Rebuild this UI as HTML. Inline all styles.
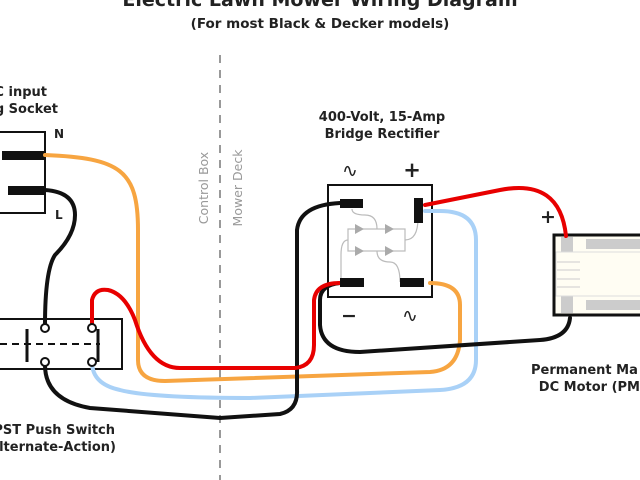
<!DOCTYPE html>
<html><head><meta charset="utf-8"><style>
html,body{margin:0;padding:0;background:#fff;width:640px;height:480px;overflow:hidden}
text{font-family:"DejaVu Sans","Liberation Sans",sans-serif;font-weight:bold;fill:#222}
</style></head><body>
<svg width="640" height="480" viewBox="0 0 640 480" xmlns="http://www.w3.org/2000/svg">
<text x="320" y="6" font-size="19" text-anchor="middle">Electric Lawn Mower Wiring Diagram</text>
<text x="320" y="28" font-size="13.5" text-anchor="middle">(For most Black &amp; Decker models)</text>

<!-- divider -->
<line x1="220" y1="55" x2="220" y2="480" stroke="#999" stroke-width="2" stroke-dasharray="8,7"/>
<text transform="translate(208,188) rotate(-90)" font-size="12.5" style="fill:#999;font-weight:normal" text-anchor="middle">Control Box</text>
<text transform="translate(242,188) rotate(-90)" font-size="12.5" style="fill:#999;font-weight:normal" text-anchor="middle">Mower Deck</text>

<!-- socket -->
<text x="47" y="96" font-size="13" text-anchor="end">AC input</text>
<text x="58" y="113" font-size="13" text-anchor="end">Plug Socket</text>
<path d="M0 132 H45 V213 H0" fill="none" stroke="#111" stroke-width="2"/>
<rect x="2" y="151" width="44" height="9" fill="#111"/>
<rect x="8" y="186" width="38" height="9" fill="#111"/>
<text x="54" y="138" font-size="12">N</text>
<text x="55" y="219" font-size="12">L</text>

<!-- switch -->
<path d="M0 319 H122 V369 H0" fill="none" stroke="#111" stroke-width="2"/>
<line x1="0" y1="344" x2="100" y2="344" stroke="#111" stroke-width="2" stroke-dasharray="7,5"/>
<line x1="27" y1="329" x2="27" y2="362" stroke="#111" stroke-width="3"/>
<line x1="98" y1="329" x2="98" y2="362" stroke="#111" stroke-width="3"/>
<text x="115" y="434" font-size="13" text-anchor="end">DPST Push Switch</text>
<text x="116" y="451" font-size="13" text-anchor="end">(Alternate-Action)</text>

<!-- bridge -->
<text x="382" y="121" font-size="13" text-anchor="middle">400-Volt, 15-Amp</text>
<text x="382" y="138" font-size="13" text-anchor="middle">Bridge Rectifier</text>
<text x="350" y="177" font-size="19" text-anchor="middle" style="font-weight:normal">∿</text>
<text x="412" y="177" font-size="21" text-anchor="middle">+</text>
<text x="349" y="322" font-size="19" text-anchor="middle">−</text>
<text x="410" y="322" font-size="19" text-anchor="middle" style="font-weight:normal">∿</text>
<rect x="328" y="185" width="104" height="112" fill="#fff" stroke="#111" stroke-width="2"/>
<g stroke="#bbb" stroke-width="1.2" fill="none">
<rect x="348" y="229" width="57" height="22"/>
<path d="M352 209 Q352 215 365 215 Q377 215 377 229"/>
<path d="M418 218 Q418 240 405 240"/>
<path d="M348 240 Q341 240 341 255 V282"/>
<path d="M377 251 Q377 262 390 262 Q400 262 400 282"/>
</g>
<g fill="#aaa"><path d="M355 224 L364 229 L355 234Z"/><path d="M385 224 L394 229 L385 234Z"/><path d="M355 246 L364 251 L355 256Z"/><path d="M385 246 L394 251 L385 256Z"/></g>

<!-- motor -->
<text x="548" y="223" font-size="19" text-anchor="middle">+</text>
<rect x="554" y="235" width="90" height="80" fill="#fffdf3" stroke="#111" stroke-width="3"/>
<rect x="561" y="237" width="12" height="76" fill="#ccc"/>
<rect x="586" y="239" width="60" height="10" fill="#ccc"/>
<rect x="586" y="300" width="60" height="10" fill="#ccc"/>
<rect x="556" y="252" width="90" height="44" fill="#fffdf3" stroke="#ddd"/>
<g stroke="#ccc" stroke-width="1"><line x1="557" y1="262" x2="580" y2="262"/><line x1="557" y1="270" x2="580" y2="270"/><line x1="557" y1="279" x2="580" y2="279"/><line x1="557" y1="287" x2="580" y2="287"/></g>
<text x="531" y="374" font-size="13">Permanent Ma</text>
<text x="640" y="391" font-size="13" text-anchor="end">DC Motor (PM</text>

<!-- wires -->
<g fill="none" stroke-width="4" stroke-linecap="round">
<path d="M45 155 C120 158 138 170 138 230 V360 Q138 381 165 381 L430 372 Q458 370 460 340 V305 Q460 283 430 283" stroke="#f7a541"/>
<path d="M92 362 Q92 384 120 390 Q150 398 250 398 L440 390 Q476 388 476 360 V240 Q476 211 440 211 L425 211" stroke="#a9d1f7"/>
<path d="M45 190 Q75 192 75 215 Q75 235 55 255 Q45 270 45 325" stroke="#111"/>
<path d="M45 365 Q45 400 90 408 L220 418 L280 414 Q298 410 297 390 L297 230 Q300 205 340 203" stroke="#111"/>
<path d="M340 283 Q320 285 320 300 V325 Q322 352 360 352 L540 340 Q568 338 570 318" stroke="#111"/>
<path d="M92 325 V300 Q95 288 108 290 Q125 294 135 320 Q150 368 180 368 L295 368 Q314 366 314 345 V300 Q316 283 340 283" stroke="#e80000"/>
<path d="M425 205 L500 190 Q560 178 566 236" stroke="#e80000"/>
</g>

<!-- terminals -->
<g fill="#111">
<rect x="340" y="199" width="23" height="9"/>
<rect x="414" y="198" width="9" height="25"/>
<rect x="340" y="278" width="24" height="9"/>
<rect x="400" y="278" width="24" height="9"/>
</g>
<g fill="#fff" stroke="#111" stroke-width="2">
<circle cx="45" cy="328" r="4"/><circle cx="45" cy="362" r="4"/>
<circle cx="92" cy="328" r="4"/><circle cx="92" cy="362" r="4"/>
</g>
</svg>
</body></html>
